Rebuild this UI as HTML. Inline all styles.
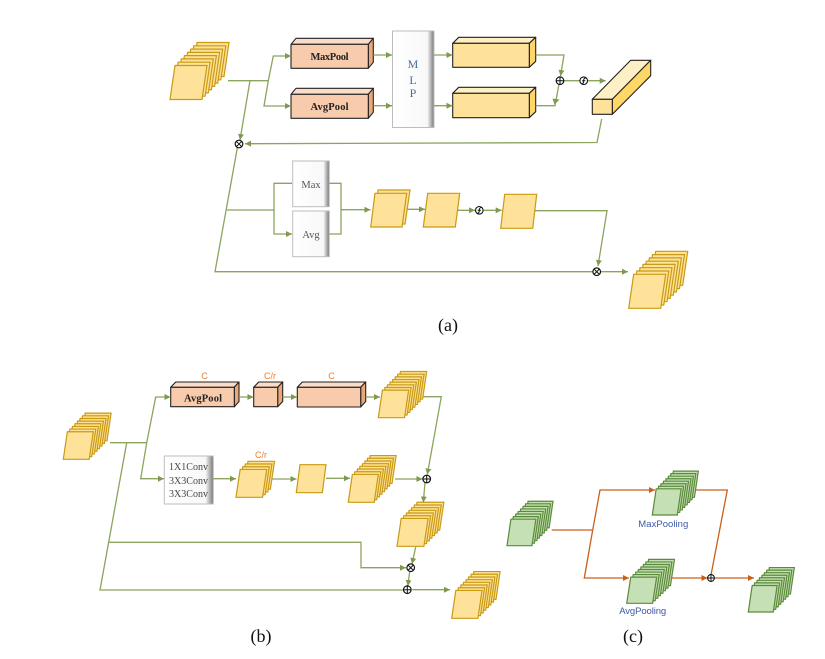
<!DOCTYPE html>
<html><head><meta charset="utf-8">
<style>
html,body{margin:0;padding:0;background:#fff;width:825px;height:659px;overflow:hidden}
svg{display:block}
#p,.pl{vector-effect:non-scaling-stroke;stroke-width:1.2;stroke-linejoin:miter}
.y{fill:#ffe299;stroke:#c99a12}
.g{fill:#c5e0b4;stroke:#5b8a3a}
.l{fill:none;stroke:#8ba45e;stroke-width:1.3;marker-end:none}
.a{marker-end:url(#ag)}
.o{fill:none;stroke:#c9601a;stroke-width:1.3}
.oa{marker-end:url(#ao)}
.b{stroke:#222;stroke-width:1.1;stroke-linejoin:round}
.sal{fill:#f8cbad}.salt{fill:#fbdcc8}.sald{fill:#eda878}
.yel{fill:#ffe299}.yelt{fill:#ffefc4}.yeld{fill:#ffd768}
.m{font:bold 10.5px "Liberation Serif",serif;fill:#222;text-anchor:middle}
.t{font-family:"Liberation Serif",serif;text-anchor:middle}
.s{font-family:"Liberation Sans",sans-serif;text-anchor:middle}
</style></head><body>
<svg width="825" height="659" viewBox="0 0 825 659" xmlns="http://www.w3.org/2000/svg">
<defs>
<marker id="ag" markerUnits="userSpaceOnUse" markerWidth="7" markerHeight="7" refX="6" refY="3" orient="auto"><path d="M0,0L6,3L0,6Z" fill="#7f9a4f"/></marker>
<marker id="ao" markerUnits="userSpaceOnUse" markerWidth="7" markerHeight="7" refX="6" refY="3" orient="auto"><path d="M0,0L6,3L0,6Z" fill="#c9601a"/></marker>
<linearGradient id="gb" x1="0" x2="1" y1="0" y2="0"><stop offset="0" stop-color="#fff"/><stop offset=".84" stop-color="#f8f8f8"/><stop offset="1" stop-color="#777"/></linearGradient>
<polygon id="p" points="5,-34 37,-34 32,0 0,0"/>
<g id="st4">
<use href="#p" x="9.4" y="-9.9"/><use href="#p" x="6.3" y="-6.6"/><use href="#p" x="3.1" y="-3.3"/><use href="#p"/>
</g>
<g id="st7">
<use href="#p" x="18.8" y="-19.7"/><use href="#p" x="15.7" y="-16.4"/><use href="#p" x="12.6" y="-13.1"/><use href="#p" x="9.4" y="-9.9"/><use href="#p" x="6.3" y="-6.6"/><use href="#p" x="3.1" y="-3.3"/><use href="#p"/>
</g>
<g id="st"><use href="#p" x="22" y="-23"/><use href="#st7"/></g>
<g id="plus"><circle r="3.8" fill="#fff" stroke="#111" stroke-width="1.2"/><path d="M-3.8,0H3.8M0,-3.8V3.8" stroke="#111" stroke-width="1"/></g>
<g id="times"><circle r="3.8" fill="#fff" stroke="#111" stroke-width="1.2"/><path d="M-2.7,-2.7L2.7,2.7M-2.7,2.7L2.7,-2.7" stroke="#111" stroke-width="1"/></g>
<g id="sig"><circle r="3.8" fill="#fff" stroke="#111" stroke-width="1.1"/><path d="M-2,3C0,3 0,1 0,0S0,-3 2.5,-2.8M-1.6,0H1.6" fill="none" stroke="#111" stroke-width="1"/></g>
</defs>

<!-- stacks (a) -->
<g class="y">
<use href="#st" transform="translate(170,99.5)"/>
<use href="#st" transform="translate(628.7,308.3)"/>
</g>
<!-- MaxPool / AvgPool -->
<g class="b">
<path class="salt" d="M291,44.3L296,38.3H373.3L368.3,44.3Z"/><path class="sald" d="M368.3,44.3L373.3,38.3V62.3L368.3,68.3Z"/><rect class="sal" x="291" y="44.3" width="77.3" height="24"/>
<path class="salt" d="M291,94.3L296,88.3H373.3L368.3,94.3Z"/><path class="sald" d="M368.3,94.3L373.3,88.3V112.3L368.3,118.3Z"/><rect class="sal" x="291" y="94.3" width="77.3" height="24"/>
</g>
<text class="m" x="329.5" y="60" textLength="38">MaxPool</text>
<text class="m" x="329.5" y="110" textLength="38">AvgPool</text>
<rect x="392.5" y="31" width="41.5" height="96.5" fill="url(#gb)" stroke="#bdbdbd"/>
<g class="t" font-size="12" fill="#4a6f96"><text x="413" y="68">M</text><text x="413" y="84">L</text><text x="413" y="97">P</text></g>
<!-- yellow boxes -->
<g class="b">
<path class="yelt" d="M452.7,43.3L458.7,37.3H535.7L529.3,43.3Z"/><path class="yeld" d="M529.3,43.3L535.7,37.3V61.3L529.3,67.3Z"/><rect class="yel" x="452.7" y="43.3" width="76.6" height="24"/>
<path class="yelt" d="M452.7,93.3L458.7,87.3H535.7L529.3,93.3Z"/><path class="yeld" d="M529.3,93.3L535.7,87.3V111.7L529.3,117.7Z"/><rect class="yel" x="452.7" y="93.3" width="76.6" height="24.4"/>
<path class="yelt" d="M592.3,99.3L630.7,60.3H650.7L612.3,99.3Z"/><path class="yeld" d="M612.3,99.3L650.7,60.3V75.7L612.3,114.3Z"/><rect class="yel" x="592.3" y="99.3" width="20" height="15"/>
</g>
<!-- connectors (a) top -->
<path class="l" d="M228,80.7H268.3"/>
<path class="l a" d="M268.3,80.7L273.3,56H291"/>
<path class="l a" d="M268.3,80.7L264,106H291"/>
<path class="l a" d="M250,80.7L240,140"/>
<path class="l a" d="M373.3,55H392"/><path class="l a" d="M373.3,105.7H392"/>
<path class="l a" d="M434,55H452.5"/><path class="l a" d="M434,105.7H452.5"/>
<path class="l a" d="M535.7,55H564L560.5,76"/>
<path class="l" d="M535.7,105.7H555L559,84"/>
<path d="M552.5,98.5L559.5,99.5L554.5,104.5Z" fill="#7f9a4f"/>
<path class="l a" d="M564,80.7H605.7"/>
<path class="l a" d="M601.7,119L597,142.5L245,143.7"/>
<use href="#plus" x="560" y="80.7"/><use href="#sig" x="583.7" y="80.7"/>
<use href="#times" x="239" y="144"/>
<!-- (a) lower -->
<path class="l" d="M237.3,148L215,271.7H593"/>
<path class="l" d="M226.7,210H274"/>
<path class="l a" d="M292,183.3H274V234H292"/>
<rect x="292.7" y="161" width="36.6" height="45.7" fill="url(#gb)" stroke="#bdbdbd"/>
<rect x="292.7" y="211" width="36.6" height="45.7" fill="url(#gb)" stroke="#bdbdbd"/>
<text class="t" x="311" y="188" font-size="10.5" fill="#555">Max</text>
<text class="t" x="311" y="238" font-size="10.5" fill="#555">Avg</text>
<path class="l" d="M329.3,183.3H341V234H329.3"/>
<path class="l a" d="M341,209.7H370.5"/>
<g class="y">
<polygon class="pl" points="378,190 410,190 405,224 373.5,224"/>
<polygon class="pl" points="375,193.3 406.7,193.3 402,227 370.7,227"/>
<polygon class="pl" points="427.7,193.3 459.7,193.3 455.3,227 423.3,227"/>
<polygon class="pl" points="504.7,194.3 536.7,194.3 532.7,228.3 500.7,228.3"/>
</g>
<path class="l a" d="M407.3,209.3H425"/>
<path class="l a" d="M457.7,210.3H475"/>
<path class="l a" d="M483.7,210.3H501.7"/>
<use href="#sig" x="479.3" y="210.3"/>
<path class="l a" d="M534.7,210.7H607L598,266"/>
<path class="l a" d="M601,271.7H628"/>
<use href="#times" x="596.7" y="271.7"/>
<text class="t" x="448" y="331" font-size="18" fill="#111">(a)</text>

<!-- (b) -->
<g class="y">
<use href="#st" transform="translate(63.3,459.3) scale(.81,.81)"/>
<use href="#st" transform="translate(378.3,417.7) scale(.82,.81)"/>
<use href="#st" transform="translate(348.3,502.3) scale(.81,.82)"/>
<use href="#st7" transform="translate(397,546.3) scale(.84,.82)"/>
<use href="#st" transform="translate(451.7,618.3) scale(.82,.82)"/>
<use href="#st4" transform="translate(236,497.3) scale(.83,.82)"/>
<polygon class="pl" points="300,464.7 326,464.7 322.3,492.7 296.3,492.7"/>
</g>
<g class="b">
<path class="salt" d="M170.7,387.3L175.7,382H239L234.3,387.3Z"/><path class="sald" d="M234.3,387.3L239,382V401.5L234.3,406.7Z"/><rect class="sal" x="170.7" y="387.3" width="63.6" height="19.4"/>
<path class="salt" d="M253.7,387.3L258.7,382H282.7L277.7,387.3Z"/><path class="sald" d="M277.7,387.3L282.7,382V401.5L277.7,406.7Z"/><rect class="sal" x="253.7" y="387.3" width="24" height="19.4"/>
<path class="salt" d="M297.3,387.3L302.3,382H365.7L360.7,387.3Z"/><path class="sald" d="M360.7,387.3L365.7,382V401.5L360.7,407Z"/><rect class="sal" x="297.3" y="387.3" width="63.4" height="19.7"/>
</g>
<text class="m" x="203" y="401.5" textLength="38">AvgPool</text>
<g class="s" font-size="9" fill="#f07d2a"><text x="204.5" y="379">C</text><text x="270" y="379">C/r</text><text x="331.5" y="379">C</text><text x="261" y="458">C/r</text></g>
<path class="l" d="M110,442.7H146.7"/>
<path class="l a" d="M146.7,442.7L155.7,397H170.5"/>
<path class="l a" d="M146.7,442.7L140.7,478.7H164"/>
<path class="l" d="M126.7,442.7L100,590H403"/>
<path class="l a" d="M108.7,542.3H361V567.7H406"/>
<path class="l a" d="M239,397H253.5"/><path class="l a" d="M282.7,397H297"/><path class="l a" d="M365.7,397H380"/>
<rect x="164.3" y="456" width="49" height="48" fill="url(#gb)" stroke="#bdbdbd"/>
<g class="t" font-size="10" fill="#444"><text x="188.5" y="470" textLength="39">1X1Conv</text><text x="188.5" y="484" textLength="39">3X3Conv</text><text x="188.5" y="497" textLength="39">3X3Conv</text></g>
<path class="l a" d="M213.3,478.7H236"/>
<path class="l a" d="M272,479H296.5"/>
<path class="l a" d="M326,478.3H350"/>
<path class="l a" d="M395,479H422.5"/>
<path class="l a" d="M423.3,396.7H441.3L427.3,474.5"/>
<path class="l a" d="M425,482.7L423.3,502.5"/>
<path class="l a" d="M415.7,547L412,564"/>
<path class="l a" d="M409.7,571.5L407.8,586"/>
<path class="l a" d="M412.3,589.7H450"/>
<use href="#plus" x="426.7" y="479"/><use href="#times" x="410.7" y="567.7"/><use href="#plus" x="407.3" y="589.7"/>
<text class="t" x="261" y="642" font-size="18" fill="#111">(b)</text>

<!-- (c) -->
<g class="g">
<use href="#st" transform="translate(507,545.7) scale(.78,.78)"/>
<use href="#st" transform="translate(652.3,515) scale(.78,.77)"/>
<use href="#st" transform="translate(626.7,603.3) scale(.81,.77)"/>
<use href="#st" transform="translate(748.3,612) scale(.78,.78)"/>
</g>
<path class="o" d="M551.7,530H592.7"/>
<path class="o oa" d="M592.7,530L600,490H655"/>
<path class="o oa" d="M592.7,530L584.3,578H629"/>
<path class="o oa" d="M670.7,578H707.5"/>
<path class="o oa" d="M715,578H754"/>
<path class="o" d="M696,490H727.3L711,575"/>
<use href="#plus" x="711" y="578" transform="translate(71.1,57.8) scale(.9)"/>
<text class="s" x="663.3" y="527" font-size="9.5" fill="#3d5aa8" textLength="50">MaxPooling</text>
<text class="s" x="642.7" y="614" font-size="9.5" fill="#3d5aa8" textLength="47">AvgPooling</text>
<text class="t" x="633" y="642" font-size="18" fill="#111">(c)</text>
</svg>
</body></html>
